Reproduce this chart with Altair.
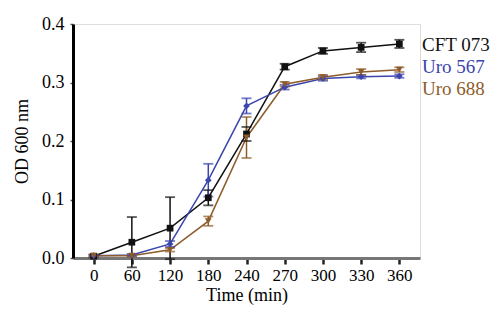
import altair as alt
import pandas as pd

times = [0, 60, 120, 180, 240, 270, 300, 330, 360]
series = ["CFT 073", "Uro 567", "Uro 688"]
cft073 = [0.003, 0.027, 0.051, 0.103, 0.212, 0.327, 0.354, 0.360, 0.366]
cft073_err = [0.002, 0.043, 0.053, 0.013, 0.012, 0.005, 0.005, 0.008, 0.007]
uro567 = [0.004, 0.005, 0.024, 0.133, 0.260, 0.292, 0.307, 0.310, 0.311]
uro567_err = [0.002, 0.002, 0.005, 0.028, 0.013, 0.004, 0.004, 0.003, 0.003]
uro688 = [0.004, 0.004, 0.014, 0.063, 0.206, 0.297, 0.309, 0.318, 0.322]
uro688_err = [0.002, 0.002, 0.003, 0.008, 0.035, 0.004, 0.004, 0.005, 0.004]
colors = ["#111111", "#3b45ad", "#8e5c2a"]
shapes = ["square", "diamond", "triangle-down"]

rows = []
for name, vals, errs in [("CFT 073", cft073, cft073_err),
                         ("Uro 567", uro567, uro567_err),
                         ("Uro 688", uro688, uro688_err)]:
    for t, v, e in zip(times, vals, errs):
        rows.append({"time": t, "series": name, "od": v, "lo": v - e, "hi": v + e})
df = pd.DataFrame(rows)

FONT = "Liberation Serif"

xenc = alt.X("time:O", sort=times,
             scale=alt.Scale(type="point", padding=0.54),
             axis=alt.Axis(title="Time (min)", labelAngle=0, labelFontSize=17,
                           titleFontSize=18, labelFont=FONT, titleFont=FONT,
                           titleFontWeight="normal", labelColor="black", titleColor="black",
                           domainColor="#777777", domainWidth=3, tickColor="#222222",
                           tickWidth=2.5, tickSize=6, labelPadding=3, titlePadding=3,
                           grid=False))
yscale = alt.Scale(domain=[0, 0.4], nice=False)
color = alt.Color("series:N", scale=alt.Scale(domain=series, range=colors),
                  legend=alt.Legend(title=None, orient="none", legendX=330, legendY=11,
                                    labelFont=FONT, labelFontSize=19,
                                    labelColor=alt.ExprRef("datum.value == 'CFT 073' ? '#111111' : (datum.value == 'Uro 567' ? '#3b45ad' : '#8e5c2a')"),
                                    symbolOpacity=0, symbolSize=0, symbolStrokeWidth=0,
                                    rowPadding=2, labelOffset=0))

base = alt.Chart(df)
lines = base.mark_line(strokeWidth=1.5).encode(
    x=xenc,
    y=alt.Y("od:Q", scale=yscale,
            axis=alt.Axis(title="OD 600 nm", values=[0, 0.1, 0.2, 0.3, 0.4], format=".1f",
                          labelFontSize=18, titleFontSize=18, labelFont=FONT, titleFont=FONT,
                          titleFontWeight="normal", labelColor="black", titleColor="black",
                          domainColor="black", domainWidth=3, tickColor="#555555",
                          tickSize=3, tickWidth=1.5, labelPadding=6, titlePadding=10,
                          grid=False)),
    color=color,
)
rules = base.mark_rule(strokeWidth=1.5).encode(
    x=alt.X("time:O", sort=times), y="lo:Q", y2="hi:Q",
    color=alt.Color("series:N", scale=alt.Scale(domain=series, range=colors), legend=None))
caps_hi = base.mark_tick(thickness=1.8, size=10, orient="horizontal").encode(
    x=alt.X("time:O", sort=times), y="hi:Q",
    color=alt.Color("series:N", scale=alt.Scale(domain=series, range=colors), legend=None))
caps_lo = base.mark_tick(thickness=1.8, size=10, orient="horizontal").encode(
    x=alt.X("time:O", sort=times), y="lo:Q",
    color=alt.Color("series:N", scale=alt.Scale(domain=series, range=colors), legend=None))
points = base.mark_point(filled=True, size=45, opacity=1).encode(
    x=alt.X("time:O", sort=times), y="od:Q",
    color=alt.Color("series:N", scale=alt.Scale(domain=series, range=colors), legend=None),
    shape=alt.Shape("series:N", scale=alt.Scale(domain=series, range=shapes), legend=None))

chart = alt.layer(lines, rules, caps_hi, caps_lo, points).properties(
    width=347, height=234,
    autosize=alt.AutoSizeParams(type="none"),
    padding={"left": 73, "top": 24, "right": 80, "bottom": 68},
    background="white",
).configure_view(stroke=None).configure(font=FONT)

chart.save("out.html", embed_options={"renderer": "svg", "actions": False})
